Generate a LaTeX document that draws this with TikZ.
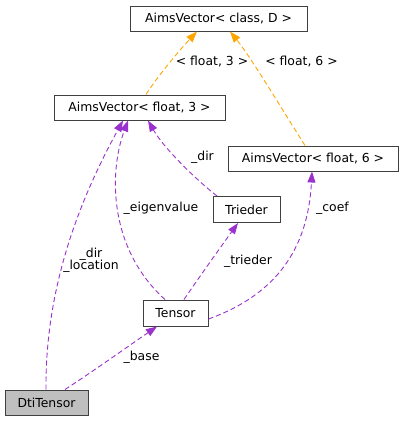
\documentclass[tikz,border=0pt]{standalone}
\usepackage{fontspec}
\setmainfont{DejaVu Sans}
\usetikzlibrary{arrows.meta}
\definecolor{edgepurple}{HTML}{9A32CD}
\definecolor{edgeorange}{HTML}{FFA500}
\definecolor{boxline}{HTML}{404040}
\definecolor{boxgray}{HTML}{BFBFBF}
\begin{document}
\begin{tikzpicture}[x=1pt,y=-1pt,
  font=\fontsize{12.4}{14}\selectfont,
  box/.style={draw=boxline, line width=1pt, fill=white, inner sep=0pt, minimum height=25pt},
  uses/.style={draw=edgepurple, line width=0.9pt, dash pattern=on 5pt off 3pt,
     -{Triangle[length=11pt,width=8pt,fill=edgepurple]}},
  inst/.style={draw=edgeorange, line width=0.9pt, dash pattern=on 5pt off 3pt,
     -{Triangle[length=11pt,width=8pt,fill=edgeorange]}},
  lbl/.style={inner sep=0pt, align=center}]
\useasboundingbox (0,0) rectangle (404,421);
% nodes
\node[box, minimum width=177pt] (cd) at (218.5,18.5) {AimsVector< class, D >};
\node[box, minimum width=171pt] (f3) at (139.5,107.5) {AimsVector< float, 3 >};
\node[box, minimum width=170pt] (f6) at (313,158.5) {AimsVector< float, 6 >};
\node[box, minimum width=67pt, minimum height=26pt] (tri) at (246.5,209.5) {Trieder};
\node[box, minimum width=65pt, minimum height=26pt] (ten) at (175.5,313) {Tensor};
\node[box, minimum width=83pt, fill=boxgray] (dti) at (46.5,402.5) {DtiTensor};
% template instantiation edges
\draw[inst] ([xshift=6.5pt]f3.north) .. controls (155,80) and (176,54) .. ([xshift=-21.5pt]cd.south);
\draw[inst] ([xshift=-8pt]f6.north) .. controls (285,114) and (250,56) .. ([xshift=11.5pt]cd.south);
% usage edges
\draw[uses] ([xshift=-0.5pt]dti.north) .. controls (45,280) and (85,190) .. ([xshift=-16.5pt]f3.south);
\draw[uses] ([xshift=-10.5pt]ten.north) .. controls (110,250) and (108,175) .. ([xshift=-11.5pt]f3.south);
\draw[uses] ([xshift=-29.5pt]tri.north) .. controls (200,183) and (165,150) .. ([xshift=8.5pt]f3.south);
\draw[uses] ([xshift=8.5pt]ten.north) .. controls (200,276) and (220,248) .. ([xshift=-8.5pt]tri.south);
\draw[uses] ([yshift=-6pt]ten.east) .. controls (275,295) and (308,250) .. ([xshift=-1pt]f6.south);
\draw[uses] ([xshift=18.5pt]dti.north) .. controls (95,370) and (130,345) .. ([xshift=-18.5pt]ten.south);
% labels
\node[lbl] (l1) at (212,62) {< float, 3 >};
\node[lbl] (l2) at (301.5,62) {< float, 6 >};
\node[lbl] (l3) at (91,260) {\_dir\\[-1.5pt]\_location};
\node[lbl] (l4) at (161,208) {\_eigenvalue};
\node[lbl] (l5) at (202.5,157) {\_dir};
\node[lbl] (l6) at (248,261) {\_trieder};
\node[lbl] (l7) at (332.5,208) {\_coef};
\node[lbl] (l8) at (141.5,357) {\_base};
\end{tikzpicture}
\end{document}
